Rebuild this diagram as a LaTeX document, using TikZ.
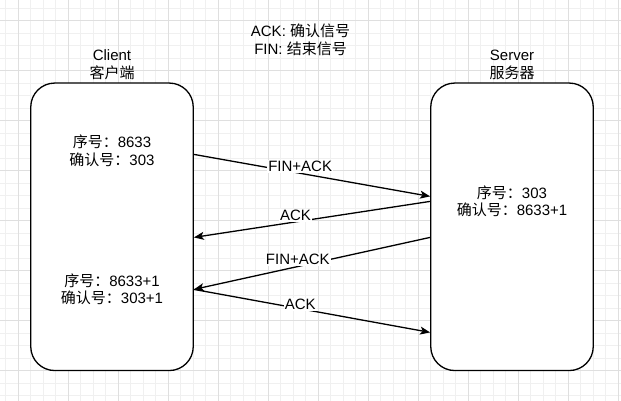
\documentclass[tikz,border=0pt]{standalone}
\usepackage{fontspec}
\setmainfont{Liberation Sans}
\newfontfamily\cjk{Noto Sans CJK SC}
\usepackage{tikz}
\usetikzlibrary{shapes,arrows.meta}
\tikzstyle{novertex} = [draw=none, fill=none, text centered, anchor=base, align=center]
\tikzstyle{host} = [rectangle, draw, fill=white, line width=1.3pt, rounded corners=24pt, minimum width=162.5pt, minimum height=287.5pt, inner sep=0pt]
\tikzstyle{msg}  = [draw, line width=1.3pt, -{Stealth[length=10pt, width=8pt, inset=2.5pt]}]
\tikzstyle{tag}  = [fill=white, inner sep=1pt, text centered]
\tikzstyle{minorgrid} = [draw=gray!12, line width=0.8pt]
\tikzstyle{majorgrid} = [draw=gray!25, line width=0.8pt]

\begin{document}
\begin{tikzpicture}[x=1pt, y=-1pt, font=\fontsize{15}{17.7}\selectfont]
	\useasboundingbox (0,0) rectangle (621,401);
	% background grid
	\foreach \i in {0,...,49} \path [minorgrid] ({5.8+12.5*\i},0) -- ({5.8+12.5*\i},401);
	\foreach \i in {0,...,32} \path [minorgrid] (0,{8+12.5*\i}) -- (621,{8+12.5*\i});
	\foreach \i in {0,...,12} \path [majorgrid] ({18.3+50*\i},0) -- ({18.3+50*\i},401);
	\foreach \i in {0,...,8}  \path [majorgrid] (0,{20.5+50*\i}) -- (621,{20.5+50*\i});

	% legend node (base = last line)
	\node [novertex] (legend) at (300.5,54.2) {ACK: {\cjk 确认信号}\\FIN: {\cjk 结束信号}};

	% place nodes
	\node [host] (client) at (112,226.8) {};
	\node [host] (server) at (512,226.8) {};
	\node [novertex] (clientname) at (112,78.7) {Client\\{\cjk 客户端}};
	\node [novertex] (servername) at (512,78.7) {Server\\{\cjk 服务器}};
	\node [novertex] (cstate1) at (112,165.7) {{\cjk 序号：}8633\\{\cjk 确认号：}303};
	\node [novertex] (sstate)  at (512,215.7) {{\cjk 序号：}303\\{\cjk 确认号：}8633+1};
	\node [novertex] (cstate2) at (112,303.7) {{\cjk 序号：}8633+1\\{\cjk 确认号：}303+1};

	% edge end points
	\coordinate (c1) at ([yshift=-72pt]client.north east);
	\coordinate (s1) at ([yshift=-114pt]server.north west);
	\coordinate (s2) at ([yshift=-119pt]server.north west);
	\coordinate (c2) at ([yshift=-155pt]client.north east);
	\coordinate (s3) at ([yshift=-155pt]server.north west);
	\coordinate (c3) at ([yshift=-207pt]client.north east);
	\coordinate (s4) at ([yshift=-250pt]server.north west);

	% draw edges
	\path [msg] (c1) -- node [tag, pos=0.45, yshift=7pt] {FIN+ACK} (s1);
	\path [msg] (s2) -- node [tag, pos=0.57, yshift=6.6pt] {ACK} (c2);
	\path [msg] (s3) -- node [tag, pos=0.56, yshift=7pt] {FIN+ACK} (c3);
	\path [msg] (c3) -- node [tag, pos=0.45, yshift=4.2pt] {ACK} (s4);
\end{tikzpicture}
\end{document}
